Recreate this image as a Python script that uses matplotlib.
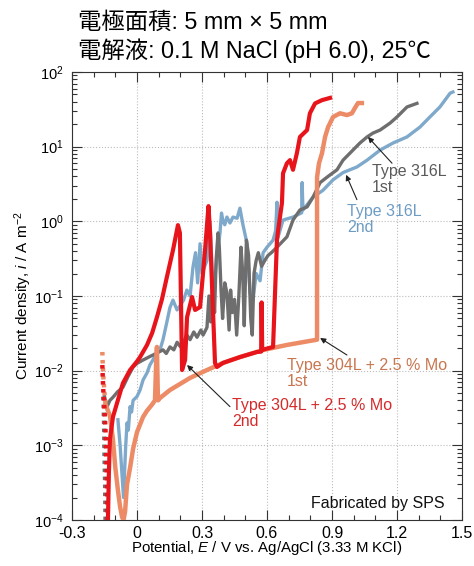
import numpy as np
import matplotlib
matplotlib.use('Agg')
import matplotlib.pyplot as plt
from matplotlib.ticker import MultipleLocator, LogLocator, NullFormatter

plt.rcParams['font.family'] = ['Liberation Sans', 'Noto Sans CJK JP', 'DejaVu Sans']
plt.rcParams['mathtext.fontset'] = 'custom'
plt.rcParams['mathtext.rm'] = 'Liberation Sans'
plt.rcParams['mathtext.it'] = 'Liberation Sans:italic'
plt.rcParams['mathtext.default'] = 'regular'

# ---------------- data (E / V vs Ag/AgCl, i / A m^-2) ----------------
# Type 304L + 2.5 % Mo, 1st (salmon)
or_dot_E = [-0.160, -0.158, -0.155, -0.150, -0.145]
or_dot_i = [0.0178, 0.012, 0.008, 0.005, 0.0035]
or_E = [-0.145, -0.125, -0.111, -0.100, -0.088, -0.078, -0.069, -0.062, -0.055, -0.046,
        -0.032, -0.018, 0.000, 0.028, 0.046, 0.069, 0.083, 0.088, 0.092, 0.095,
        0.097, 0.106, 0.152, 0.245, 0.323, 0.397, 0.475, 0.582, 0.692, 0.831,
        0.831, 0.840, 0.854, 0.868, 0.882, 0.905, 0.937, 0.969, 0.992, 1.006,
        1.020, 1.038]
or_i = [0.0035, 0.0025, 0.0012, 0.0005, 0.00025, 0.00015, 0.00011, 0.0001, 0.00013, 0.0003,
        0.0005, 0.0009, 0.0015, 0.0024, 0.0029, 0.0035, 0.0040, 0.012, 0.0208, 0.007,
        0.0040, 0.0043, 0.0055, 0.0080, 0.0102, 0.0127, 0.0152, 0.0189, 0.0221, 0.026,
        3.9, 6.0, 8.2, 13.5, 18.3, 25, 28, 26.5, 28, 33,
        38.4, 38.4]

# Type 304L + 2.5 % Mo, 2nd (red)
rd_dot_E = [-0.160, -0.158, -0.155, -0.150, -0.145, -0.140, -0.136]
rd_dot_i = [0.0119, 0.008, 0.005, 0.003, 0.0015, 0.0005, 0.0001]
rd_E = [-0.134, -0.130, -0.125, -0.111, -0.092, -0.065, -0.032, 0.000, 0.014, 0.046,
        0.070, 0.092, 0.115, 0.138, 0.166, 0.189, 0.198, 0.208, 0.222, 0.231,
        0.254, 0.268, 0.291, 0.314, 0.330, 0.337, 0.360, 0.369, 0.397, 0.475,
        0.554, 0.573, 0.575, 0.578, 0.628, 0.646, 0.651, 0.669, 0.674, 0.692,
        0.706, 0.720, 0.738, 0.752, 0.785, 0.798, 0.822, 0.854, 0.891]
rd_i = [0.0001, 0.0004, 0.0012, 0.0024, 0.0037, 0.0068, 0.0102, 0.0133, 0.0152, 0.022,
        0.032, 0.052, 0.09, 0.18, 0.41, 0.89, 0.70, 0.0102, 0.0139, 0.052,
        0.097, 0.065, 0.071, 0.41, 1.6, 0.70, 0.0127, 0.0112, 0.0127, 0.0152,
        0.0178, 0.018, 0.082, 0.019, 0.0208, 0.56, 0.75, 1.76, 4.4, 6.0,
        6.6, 4.9, 8.2, 13.5, 16.7, 28, 38, 42, 45]

# Type 316L, 1st (gray)
gy_dot_E = [-0.155, -0.152, -0.150, -0.147, -0.145]
gy_dot_i = [0.0045, 0.002, 0.0008, 0.0003, 0.0001]
gy_E = [-0.150, -0.138, -0.125, -0.111, -0.090, -0.065, -0.040, -0.018, 0.000, 0.028,
        0.060, 0.092, 0.120, 0.135, 0.152, 0.170, 0.185, 0.200, 0.212, 0.230,
        0.245, 0.262, 0.277, 0.295, 0.305, 0.323, 0.332, 0.340, 0.350, 0.358,
        0.365, 0.374, 0.380, 0.388, 0.395, 0.405, 0.415, 0.425, 0.432, 0.440,
        0.450, 0.460, 0.470, 0.480, 0.488, 0.495, 0.505, 0.515, 0.525, 0.532,
        0.540, 0.550, 0.560, 0.575, 0.590, 0.605, 0.620, 0.646, 0.692, 0.720,
        0.752, 0.785, 0.812, 0.845, 0.877, 0.923, 0.951, 0.983, 1.029, 1.062,
        1.089, 1.122, 1.168, 1.200, 1.246, 1.292]
gy_i = [0.0045, 0.0033, 0.0040, 0.0044, 0.0052, 0.0060, 0.0085, 0.0112, 0.0125, 0.0139,
        0.0155, 0.0172, 0.019, 0.017, 0.0208, 0.019, 0.024, 0.021, 0.0235, 0.030,
        0.026, 0.033, 0.028, 0.035, 0.030, 0.038, 0.10, 0.045, 0.15, 0.06,
        0.30, 0.70, 0.45, 0.12, 0.05, 0.15, 0.11, 0.035, 0.12, 0.06,
        0.09, 0.03, 0.10, 0.45, 0.20, 0.04, 0.56, 0.35, 0.05, 0.03,
        0.20, 0.30, 0.38, 0.25, 0.30, 0.35, 0.38, 0.45, 0.62, 1.04,
        1.42, 1.56, 2.1, 3.3, 3.9, 4.9, 6.6, 8.2, 11.2, 13.5,
        15.2, 16.7, 20.7, 25, 34, 38]

# Type 316L, 2nd (blue)
bl_E = [-0.088, -0.078, -0.069, -0.062, -0.058, -0.052, -0.046, -0.040, -0.032, -0.025,
        -0.018, 0.000, 0.014, 0.028, 0.046, 0.060, 0.074, 0.092, 0.106, 0.120,
        0.138, 0.152, 0.166, 0.185, 0.200, 0.215, 0.230, 0.245, 0.258, 0.270,
        0.280, 0.291, 0.300, 0.323, 0.337, 0.345, 0.351, 0.365, 0.383, 0.390,
        0.397, 0.405, 0.415, 0.429, 0.443, 0.462, 0.475, 0.489, 0.508, 0.522,
        0.535, 0.550, 0.568, 0.582, 0.600, 0.628, 0.640, 0.646, 0.650, 0.674,
        0.720, 0.760, 0.762, 0.766, 0.812, 0.858, 0.905, 0.951, 1.015, 1.062,
        1.122, 1.182, 1.246, 1.306, 1.352, 1.398, 1.445, 1.458]
bl_i = [0.0022, 0.0010, 0.0004, 0.0002, 0.0004, 0.0010, 0.0020, 0.0016, 0.0033, 0.0028,
        0.0040, 0.0045, 0.0055, 0.0075, 0.0093, 0.012, 0.014, 0.0175, 0.019, 0.026,
        0.045, 0.070, 0.088, 0.065, 0.075, 0.088, 0.12, 0.10, 0.24, 0.38,
        0.15, 0.5, 0.2, 0.30, 1.0, 0.3, 0.09, 0.25, 0.70, 1.29,
        1.0, 0.9, 1.14, 0.95, 1.14, 1.1, 1.5, 0.9, 0.5, 0.11,
        0.088, 0.2, 0.16, 0.38, 0.45, 0.56, 0.75, 1.8, 0.6, 1.04,
        1.14, 1.3, 3.3, 1.42, 2.1, 2.6, 3.6, 4.5, 5.35, 6.6,
        9.0, 11.2, 13.5, 18.3, 25, 34, 52, 54]

x_ticks = [-0.3, 0.0, 0.3, 0.6, 0.9, 1.2, 1.5]
x_ticklabels = ['-0.3', '0', '0.3', '0.6', '0.9', '1.2', '1.5']

title_lines = ['電極面積: 5 mm × 5 mm', '電解液: 0.1 M NaCl (pH 6.0), 25℃']

c_red = '#e8141b'
c_org = '#ec8b66'
c_gry = '#6e6e6e'
c_blu = '#7ea9cb'

# ---------------- figure ----------------
fig = plt.figure(figsize=(4.74, 5.66), dpi=100)
ax = fig.add_axes([72 / 474, 1 - 520 / 566, 390 / 474, 448 / 566])

ax.plot(bl_E, bl_i, color=c_blu, lw=2.4, solid_joinstyle='round', zorder=3)
ax.plot(gy_dot_E, gy_dot_i, color=c_gry, lw=3.2, ls=(0, (0.8, 1.0)), zorder=3)
ax.plot(gy_E, gy_i, color=c_gry, lw=2.4, solid_joinstyle='round', zorder=3)
ax.plot(or_dot_E, or_dot_i, color=c_org, lw=3.2, ls=(0, (0.8, 1.0)), zorder=4)
ax.plot(or_E, or_i, color=c_org, lw=3.2, solid_joinstyle='round', zorder=4)
ax.plot(rd_dot_E, rd_dot_i, color=c_red, lw=3.2, ls=(0, (0.8, 1.0)), zorder=5)
ax.plot(rd_E, rd_i, color=c_red, lw=3.0, solid_joinstyle='round', zorder=5)

ax.set_yscale('log')
ax.set_xlim(-0.3, 1.5)
ax.set_ylim(1e-4, 1e2)
ax.set_xticks(x_ticks)
ax.set_xticklabels(x_ticklabels)
ax.xaxis.set_minor_locator(MultipleLocator(0.1))
ax.yaxis.set_major_locator(LogLocator(base=10, numticks=10))
ax.yaxis.set_minor_locator(LogLocator(base=10, subs=np.arange(2, 10), numticks=20))
ax.yaxis.set_minor_formatter(NullFormatter())

ax.tick_params(which='both', direction='in', top=True, right=True, width=0.8, color='#333333')
ax.tick_params(which='major', length=7)
ax.tick_params(which='minor', length=3.5)
ax.tick_params(axis='x', labelsize=11.5, pad=4)
ax.tick_params(axis='y', labelsize=10.5, pad=6)
for s in ax.spines.values():
    s.set_color('#333333')
    s.set_linewidth(0.8)

ax.grid(True, which='major', ls=':', color='#bdbdbd', lw=0.8)
ax.set_axisbelow(True)

ax.set_xlabel(r'Potential, $\mathit{E}$ / V vs. Ag/AgCl (3.33 M KCl)', fontsize=10.8, labelpad=-1)
ax.set_ylabel(r'Current density, $\mathit{i}$ / A m$^{-2}$', fontsize=11, labelpad=0)

# annotations
arr = dict(arrowstyle='-|>', color='#222222', lw=0.8, mutation_scale=8, shrinkA=0, shrinkB=0)
ax.annotate('', xy=(1.066, 13.5), xytext=(1.177, 6.0), arrowprops=arr, zorder=6)
ax.annotate('', xy=(0.965, 4.2), xytext=(1.015, 1.95), arrowprops=arr, zorder=6)
ax.annotate('', xy=(0.845, 0.0274), xytext=(0.969, 0.0162), arrowprops=arr, zorder=6)
ax.annotate('', xy=(0.231, 0.0119), xytext=(0.429, 0.0033), arrowprops=arr, zorder=6)

ax.text(1.085, 5.8, 'Type 316L\n1st', color='#5a5a5a', fontsize=11.5, ha='left', va='top',
        linespacing=1.05, zorder=7)
ax.text(0.969, 1.7, 'Type 316L\n2nd', color='#6d9cc4', fontsize=11.5, ha='left', va='top',
        linespacing=1.05, zorder=7)
ax.text(0.692, 0.0148, 'Type 304L + 2.5 % Mo\n1st', color='#c8764f', fontsize=11.5, ha='left',
        va='top', linespacing=1.05, zorder=7)
ax.text(0.438, 0.0043, 'Type 304L + 2.5 % Mo\n2nd', color='#d42a2a', fontsize=11.5, ha='left',
        va='top', linespacing=1.05, zorder=7)
ax.text(0.955, 0.027, 'Fabricated by SPS', transform=ax.transAxes, fontsize=11.5,
        ha='right', va='baseline', color='#111111', zorder=7)

fig.text(78 / 474, 1 - 29 / 566, title_lines[0], fontsize=16.8, va='baseline', ha='left')
fig.text(78 / 474, 1 - 58 / 566, title_lines[1], fontsize=16.8, va='baseline', ha='left')

fig.savefig('out.png', dpi=100)
